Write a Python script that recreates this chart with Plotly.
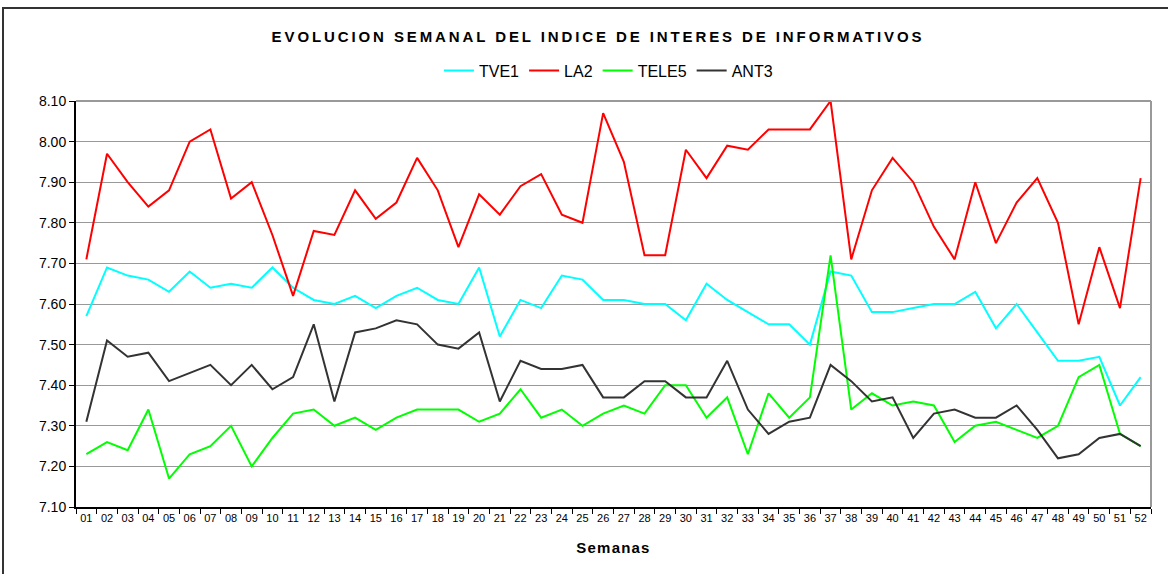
import plotly.graph_objects as go

weeks = [f"{i:02d}" for i in range(1, 53)]

tve1 = [7.57, 7.69, 7.67, 7.66, 7.63, 7.68, 7.64, 7.65, 7.64, 7.69, 7.64, 7.61, 7.60, 7.62, 7.59, 7.62,
        7.64, 7.61, 7.60, 7.69, 7.52, 7.61, 7.59, 7.67, 7.66, 7.61, 7.61, 7.60, 7.60, 7.56, 7.65, 7.61,
        7.58, 7.55, 7.55, 7.50, 7.68, 7.67, 7.58, 7.58, 7.59, 7.60, 7.60, 7.63, 7.54, 7.60, 7.53, 7.46,
        7.46, 7.47, 7.35, 7.42]
la2 = [7.71, 7.97, 7.90, 7.84, 7.88, 8.00, 8.03, 7.86, 7.90, 7.77, 7.62, 7.78, 7.77, 7.88, 7.81, 7.85,
       7.96, 7.88, 7.74, 7.87, 7.82, 7.89, 7.92, 7.82, 7.80, 8.07, 7.95, 7.72, 7.72, 7.98, 7.91, 7.99,
       7.98, 8.03, 8.03, 8.03, 8.10, 7.71, 7.88, 7.96, 7.90, 7.79, 7.71, 7.90, 7.75, 7.85, 7.91, 7.80,
       7.55, 7.74, 7.59, 7.91]
tele5 = [7.23, 7.26, 7.24, 7.34, 7.17, 7.23, 7.25, 7.30, 7.20, 7.27, 7.33, 7.34, 7.30, 7.32, 7.29, 7.32,
         7.34, 7.34, 7.34, 7.31, 7.33, 7.39, 7.32, 7.34, 7.30, 7.33, 7.35, 7.33, 7.40, 7.40, 7.32, 7.37,
         7.23, 7.38, 7.32, 7.37, 7.72, 7.34, 7.38, 7.35, 7.36, 7.35, 7.26, 7.30, 7.31, 7.29, 7.27, 7.30,
         7.42, 7.45, 7.28, 7.25]
ant3 = [7.31, 7.51, 7.47, 7.48, 7.41, 7.43, 7.45, 7.40, 7.45, 7.39, 7.42, 7.55, 7.36, 7.53, 7.54, 7.56,
        7.55, 7.50, 7.49, 7.53, 7.36, 7.46, 7.44, 7.44, 7.45, 7.37, 7.37, 7.41, 7.41, 7.37, 7.37, 7.46,
        7.34, 7.28, 7.31, 7.32, 7.45, 7.41, 7.36, 7.37, 7.27, 7.33, 7.34, 7.32, 7.32, 7.35, 7.29, 7.22,
        7.23, 7.27, 7.28, 7.25]

series = [("TVE1", tve1, "#00FFFF"), ("LA2", la2, "#FF0000"),
          ("TELE5", tele5, "#00FF00"), ("ANT3", ant3, "#333333")]

y_ticks = [round(7.10 + 0.1 * i, 2) for i in range(11)]

fig = go.Figure()
for name, vals, color in series:
    fig.add_trace(go.Scatter(x=weeks, y=vals, name=name, mode="lines",
                             line=dict(color=color, width=2)))

font = "Liberation Sans, Arial, sans-serif"
fig.update_layout(
    width=1168, height=574,
    margin=dict(l=76, r=17, t=101, b=67, autoexpand=False),
    paper_bgcolor="white", plot_bgcolor="white",
    font=dict(family=font, color="black"),
    title=dict(text="<b>EVOLUCION SEMANAL DEL INDICE DE INTERES DE INFORMATIVOS</b>",
               x=0.512, xanchor="center", y=1 - 37 / 574, yanchor="middle",
               font=dict(size=15, family=font, color="black")),
    legend=dict(orientation="h", x=0.4953, xanchor="center", y=1.075, yanchor="middle",
                font=dict(size=16, family=font), bgcolor="rgba(0,0,0,0)",
                itemwidth=30, tracegroupgap=0),
    showlegend=True,
    xaxis=dict(type="category", range=[-0.5, 51.5], tickson="boundaries",
               ticks="outside", ticklen=5, tickcolor="black", tickangle=0,
               showline=True, linecolor="black", linewidth=2,
               showgrid=False, tickfont=dict(size=11, family=font),
               title=dict(text="<b>Semanas</b>", font=dict(size=15, family=font), standoff=19),
               automargin=False),
    yaxis=dict(range=[7.10, 8.10], tickvals=y_ticks, ticktext=[f"{v:.2f}" for v in y_ticks],
               ticks="outside", ticklen=5, tickcolor="black",
               showline=True, linecolor="black", linewidth=2,
               showgrid=True, gridcolor="#999999", gridwidth=1,
               tickfont=dict(size=14, family=font), zeroline=False, automargin=False),
    shapes=[
        dict(type="line", xref="paper", yref="paper", x0=1, x1=1, y0=0, y1=1,
             line=dict(color="#999999", width=2)),
        dict(type="line", xref="paper", yref="paper", x0=0, x1=1, y0=1, y1=1,
             line=dict(color="#999999", width=2)),
        dict(type="rect", xref="paper", yref="paper", x0=-0.0679, x1=1.08, y0=-0.3, y1=1.229,
             line=dict(color="#333333", width=2), fillcolor="rgba(0,0,0,0)", layer="below"),
    ],
)

post = ("var s=document.createElement('style');"
        "s.textContent='html,body{margin:0;padding:0;overflow:hidden}"
        ".gtitle{letter-spacing:2.9px}.xtitle{letter-spacing:1.2px}';"
        "document.head.appendChild(s);")

fig.write_html("out.html", post_script=post, config={"displayModeBar": False})
